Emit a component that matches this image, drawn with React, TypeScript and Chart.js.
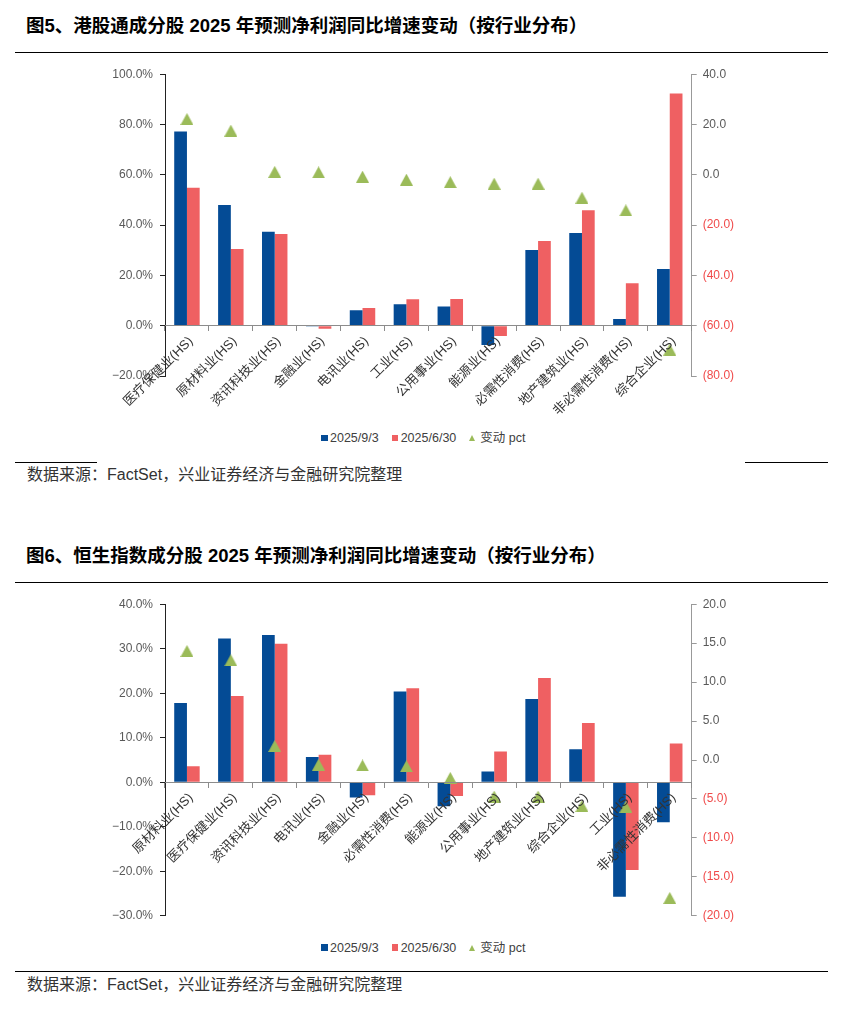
import React, { useEffect, useRef } from 'react';
import { Chart, registerables } from 'chart.js';

Chart.register(...registerables);

const FONT = '"Liberation Sans", "Noto Sans CJK SC", sans-serif';
const BLUE = '#044b95';
const RED = '#ef6062';
const GREEN = '#9bbb59';

const legendLabels = ['2025/9/3', '2025/6/30', '变动 pct'];

const title1 = '图5、港股通成分股 2025 年预测净利润同比增速变动（按行业分布）';
const title2 = '图6、恒生指数成分股 2025 年预测净利润同比增速变动（按行业分布）';
const sourceText = '数据来源：FactSet，兴业证券经济与金融研究院整理';

// Chart 1: 港股通成分股
const categories1 = [
  '医疗保健业(HS)', '原材料业(HS)', '资讯科技业(HS)', '金融业(HS)', '电讯业(HS)', '工业(HS)',
  '公用事业(HS)', '能源业(HS)', '必需性消费(HS)', '地产建筑业(HS)', '非必需性消费(HS)', '综合企业(HS)',
];
const sep1 = [77.2, 48.0, 37.4, -0.3, 6.2, 8.5, 7.6, -7.7, 30.1, 36.9, 2.7, 22.6];
const jun1 = [54.9, 30.5, 36.5, -1.2, 7.0, 10.5, 10.6, -4.1, 33.7, 45.9, 16.9, 92.4];
const chg1 = [22.2, 17.6, 1.2, 1.0, -0.7, -1.9, -2.9, -3.5, -3.5, -9.1, -14.1, -69.5];
const leftTicks1 = { min: -20, max: 100, step: 20 };
const rightTicks1 = { min: -80, max: 40, step: 20 };

// Chart 2: 恒生指数成分股
const categories2 = [
  '原材料业(HS)', '医疗保健业(HS)', '资讯科技业(HS)', '电讯业(HS)', '金融业(HS)', '必需性消费(HS)',
  '能源业(HS)', '公用事业(HS)', '地产建筑业(HS)', '综合企业(HS)', '工业(HS)', '非必需性消费(HS)',
];
const sep2 = [17.8, 32.3, 33.1, 5.7, -3.4, 20.4, -5.4, 2.4, 18.7, 7.4, -25.7, -9.0];
const jun2 = [3.6, 19.4, 31.1, 6.2, -2.9, 21.1, -3.1, 6.9, 23.4, 13.3, -19.7, 8.7];
const chg2 = [14.0, 12.8, 1.8, -0.6, -0.7, -0.8, -2.3, -4.7, -4.7, -5.9, -6.0, -17.7];
const leftTicks2 = { min: -30, max: 40, step: 10 };
const rightTicks2 = { min: -20, max: 20, step: 5 };

function makeTriangle(): HTMLCanvasElement {
  const c = document.createElement('canvas');
  c.width = 13;
  c.height = 12;
  const ctx = c.getContext('2d')!;
  ctx.fillStyle = GREEN;
  ctx.beginPath();
  ctx.moveTo(6.5, 0);
  ctx.lineTo(13, 12);
  ctx.lineTo(0, 12);
  ctx.closePath();
  ctx.fill();
  return c;
}

type Range = { min: number; max: number; step: number };

function buildConfig(
  cats: string[], a: number[], b: number[], c: number[],
  lt: Range, rt: Range, padTop: number, padBottom: number,
): any {
  const tri = makeTriangle();
  return {
    type: 'bar',
    data: {
      labels: cats,
      datasets: [
        {
          type: 'bar', label: legendLabels[0], data: a, backgroundColor: BLUE, yAxisID: 'y',
          order: 2, categoryPercentage: 0.58, barPercentage: 1,
        },
        {
          type: 'bar', label: legendLabels[1], data: b, backgroundColor: RED, yAxisID: 'y',
          order: 2, categoryPercentage: 0.58, barPercentage: 1,
        },
        {
          type: 'line', label: legendLabels[2], data: c, yAxisID: 'y1', showLine: false,
          pointStyle: tri, pointRadius: 6, pointHoverRadius: 6, order: 1,
          backgroundColor: GREEN, borderColor: GREEN,
        },
      ],
    },
    options: {
      responsive: false,
      animation: false,
      events: [],
      layout: { padding: { top: padTop, bottom: padBottom, left: 0, right: 0 } },
      plugins: { legend: { display: false }, tooltip: { enabled: false } },
      scales: {
        x: {
          type: 'category',
          position: { y: 0 },
          offset: true,
          grid: {
            display: true, drawOnChartArea: false, drawTicks: true, tickLength: 5,
            color: '#8c8c8c', offset: true, z: 1,
          },
          border: { display: true, color: '#8c8c8c', width: 1, z: 1 },
          ticks: {
            autoSkip: false, maxRotation: 45, minRotation: 45, color: '#333333',
            font: { size: 13, family: FONT }, padding: 3, labelOffset: 4, z: 1,
          },
          afterFit: (s: any) => { s.height = 0; },
        },
        y: {
          type: 'linear', position: 'left', min: lt.min, max: lt.max,
          grid: { display: true, drawOnChartArea: false, drawTicks: true, tickLength: 5, color: '#222222' },
          border: { display: true, color: '#222222', width: 1 },
          ticks: {
            stepSize: lt.step, color: '#595959', font: { size: 12, family: FONT }, padding: 7,
            callback: (v: any) => (Number(v) < 0 ? '−' + Math.abs(Number(v)).toFixed(1) : Number(v).toFixed(1)) + '%',
          },
          afterFit: (s: any) => { s.width = 65; },
        },
        y1: {
          type: 'linear', position: 'right', min: rt.min, max: rt.max,
          grid: { display: true, drawOnChartArea: false, drawTicks: true, tickLength: 5, color: '#999999' },
          border: { display: true, color: '#999999', width: 1 },
          ticks: {
            stepSize: rt.step, font: { size: 12, family: FONT }, padding: 6,
            color: (ctx: any) => (ctx.tick && ctx.tick.value < 0 ? '#f04a4a' : '#595959'),
            callback: (v: any) => (Number(v) < 0 ? '(' + Math.abs(Number(v)).toFixed(1) + ')' : Number(v).toFixed(1)),
          },
          afterFit: (s: any) => { s.width = 58.3; },
        },
      },
    },
  };
}

function ChartCanvas(props: { build: () => any; left: number; top: number; width: number; height: number }) {
  const ref = useRef<HTMLCanvasElement>(null);
  useEffect(() => {
    const chart = new Chart(ref.current!, props.build());
    return () => chart.destroy();
  }, []);
  return (
    <canvas
      ref={ref}
      width={props.width}
      height={props.height}
      style={{ position: 'absolute', left: props.left, top: props.top, width: props.width, height: props.height }}
    />
  );
}

function Legend(props: { top: number }) {
  const item = { display: 'flex', alignItems: 'center', marginRight: 13 } as React.CSSProperties;
  const text = { fontSize: 12.5, color: '#404040', lineHeight: '14px', whiteSpace: 'nowrap' } as React.CSSProperties;
  return (
    <div style={{ position: 'absolute', left: 321, top: props.top, height: 14, display: 'flex', alignItems: 'center', fontFamily: FONT }}>
      <div style={item}>
        <div style={{ width: 6.5, height: 6.5, background: BLUE, marginRight: 2.5 }} />
        <span style={text}>{legendLabels[0]}</span>
      </div>
      <div style={item}>
        <div style={{ width: 6.5, height: 6.5, background: RED, marginRight: 2.5 }} />
        <span style={text}>{legendLabels[1]}</span>
      </div>
      <div style={item}>
        <div style={{ width: 0, height: 0, borderLeft: '3px solid transparent', borderRight: '3px solid transparent', borderBottom: '6px solid ' + GREEN, marginRight: 5 }} />
        <span style={text}>{legendLabels[2]}</span>
      </div>
    </div>
  );
}

function Line(props: { left: number; top: number; width: number }) {
  return <div style={{ position: 'absolute', left: props.left, top: props.top, width: props.width, height: 1.5, background: '#000' }} />;
}

function Title(props: { top: number; text: string }) {
  return (
    <div style={{ position: 'absolute', left: 26, top: props.top, fontFamily: FONT, fontWeight: 'bold', fontSize: 18.5, lineHeight: '22px', color: '#000', whiteSpace: 'nowrap' }}>
      {props.text}
    </div>
  );
}

function Source(props: { top: number }) {
  return (
    <div style={{ position: 'absolute', left: 27, top: props.top, fontFamily: FONT, fontSize: 16, lineHeight: '18px', color: '#333', whiteSpace: 'nowrap' }}>
      {sourceText}
    </div>
  );
}

export default function App() {
  return (
    <div style={{ position: 'absolute', left: 0, top: 0, width: 849, height: 1011, background: '#fff', overflow: 'hidden' }}>
      <Title top={15} text={title1} />
      <Line left={15} top={51.5} width={813} />
      <ChartCanvas
        build={() => buildConfig(categories1, sep1, jun1, chg1, leftTicks1, rightTicks1, 14.3, 49)}
        left={100} top={60} width={650} height={365}
      />
      <Legend top={431} />
      <Line left={15} top={461.5} width={82} />
      <Line left={745} top={461.5} width={83} />
      <Source top={466} />

      <Title top={545} text={title2} />
      <Line left={15} top={581.5} width={813} />
      <ChartCanvas
        build={() => buildConfig(categories2, sep2, jun2, chg2, leftTicks2, rightTicks2, 13.3, 14)}
        left={100} top={590} width={650} height={340}
      />
      <Legend top={940.5} />
      <Line left={15} top={970.5} width={813} />
      <Source top={976} />
    </div>
  );
}
